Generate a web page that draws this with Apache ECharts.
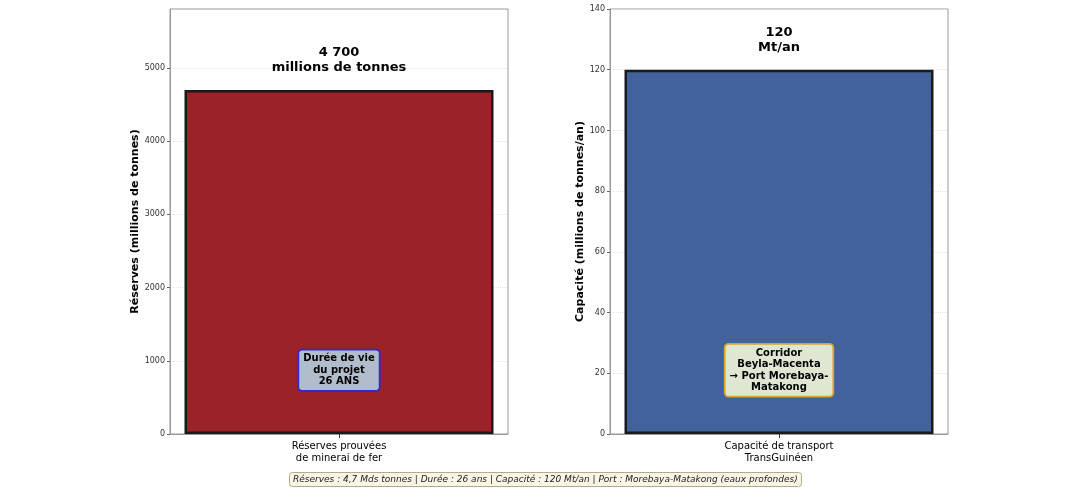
<!DOCTYPE html>
<html lang="fr">
<head>
    <meta charset="UTF-8">
    <script src="https://cdn.jsdelivr.net/npm/echarts@6/dist/echarts.min.js"></script>
    <title>Simandou</title>
    <style>
        html, body { margin: 0; padding: 0; background: #fff; }
        #chart { width: 1080px; height: 501px; }
    </style>
</head>
<body>
<div id="chart"></div>
<script>
    // données
    const categoriesReserves = ['Réserves prouvées\nde minerai de fer']
    const categoriesCapacite = ['Capacité de transport\nTransGuinéen']
    const reserves = [4700]
    const capacite = [120]
    const reservesTicks = [0, 1000, 2000, 3000, 4000, 5000]
    const capaciteTicks = [0, 20, 40, 60, 80, 100, 120, 140]
    const reservesLabel = '4 700\nmillions de tonnes'
    const capaciteLabel = '120\nMt/an'
    const boxReserves = [[0, 870]]
    const boxCapacite = [[0, 21]]
    const boxReservesText = 'Durée de vie\ndu projet\n26 ANS'
    const boxCapaciteText = 'Corridor\nBeyla-Macenta\n→ Port Morebaya-\nMatakong'
    const footerText = 'Réserves : 4,7 Mds tonnes | Durée : 26 ans | Capacité : 120 Mt/an | Port : Morebaya-Matakong (eaux profondes)'

    const font = 'DejaVu Sans'

    function yAxisFor(gridIndex, name, max, ticks, gap) {
        return {
            type: 'value', gridIndex: gridIndex, min: 0, max: max,
            name: name, nameLocation: 'middle', nameGap: gap, nameRotate: 90,
            nameTextStyle: { fontFamily: font, fontWeight: 'bold', fontSize: 11, color: '#000' },
            axisLine: { show: true, lineStyle: { color: '#999', width: 1 } },
            axisTick: { show: true, length: 3, customValues: ticks, lineStyle: { color: '#666' } },
            axisLabel: {
                fontFamily: font, fontSize: 8, color: '#333', margin: 5, customValues: ticks,
                formatter: function (v) { return String(v) }
            },
            splitLine: { show: true, lineStyle: { color: '#e4e4e4', type: 'dotted', width: 1 } }
        }
    }

    function xAxisFor(gridIndex, data) {
        return {
            type: 'category', gridIndex: gridIndex, data: data,
            axisLine: { show: true, lineStyle: { color: '#999' } },
            axisTick: { show: true, alignWithLabel: true, length: 4, lineStyle: { color: '#333' } },
            axisLabel: { fontFamily: font, fontSize: 10, color: '#000', lineHeight: 12, margin: 6 }
        }
    }

    function barFor(idx, data, color, labelText) {
        return {
            type: 'bar', xAxisIndex: idx, yAxisIndex: idx, data: data, barWidth: 309,
            itemStyle: { color: color, borderColor: '#1a1a1a', borderWidth: 2.5 },
            label: {
                show: true, position: 'top', distance: 15, formatter: labelText,
                fontFamily: font, fontWeight: 'bold', fontSize: 13, lineHeight: 15, color: '#000'
            },
            z: 2
        }
    }

    function boxFor(idx, data, text, bg, border) {
        return {
            type: 'scatter', xAxisIndex: idx, yAxisIndex: idx, data: data, symbolSize: 0,
            silent: true, z: 5,
            itemStyle: { opacity: 1 },
            label: {
                show: true, position: 'inside', formatter: text, opacity: 1,
                fontFamily: font, fontWeight: 'bold', fontSize: 10, lineHeight: 11.5, color: '#000',
                backgroundColor: bg, borderColor: border, borderWidth: 1.8, borderRadius: 3,
                padding: [3, 4, 2, 4], align: 'center'
            }
        }
    }

    const chart = echarts.init(document.getElementById('chart'))
    chart.setOption({
        animation: false,
        backgroundColor: '#fff',
        title: {
            text: footerText, left: 289, top: 472,
            backgroundColor: '#fbf5e6', borderColor: '#b8a88a', borderWidth: 1, borderRadius: 3,
            padding: [3, 4],
            textStyle: { fontFamily: font, fontStyle: 'italic', fontWeight: 'normal', fontSize: 9, color: '#222' }
        },
        grid: [
            { left: 170, right: 572, top: 9, bottom: 67, show: true, borderColor: '#999', borderWidth: 1, backgroundColor: 'transparent' },
            { left: 610, right: 132, top: 9, bottom: 67, show: true, borderColor: '#999', borderWidth: 1, backgroundColor: 'transparent' }
        ],
        xAxis: [xAxisFor(0, categoriesReserves), xAxisFor(1, categoriesCapacite)],
        yAxis: [
            yAxisFor(0, 'Réserves (millions de tonnes)', 5806, reservesTicks, 23),
            yAxisFor(1, 'Capacité (millions de tonnes/an)', 140, capaciteTicks, 22)
        ],
        series: [
            barFor(0, reserves, '#9b2228', reservesLabel),
            barFor(1, capacite, '#42629e', capaciteLabel),
            boxFor(0, boxReserves, boxReservesText, '#b2bdcc', '#2b2bd0'),
            boxFor(1, boxCapacite, boxCapaciteText, '#dfe6d2', '#e0a030')
        ]
    })
</script>
</body>
</html>
